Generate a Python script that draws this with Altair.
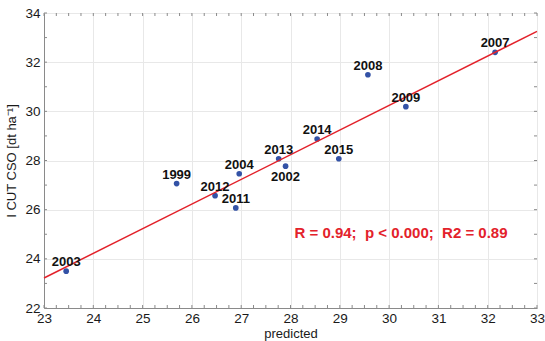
import altair as alt
import pandas as pd
import numpy as np

# ---- data ----
years = ["2003", "1999", "2012", "2011", "2004", "2013", "2002", "2014", "2015", "2008", "2009", "2007"]
predicted = [23.45, 25.69, 26.47, 26.89, 26.96, 27.76, 27.90, 28.54, 28.98, 29.57, 30.34, 32.15]
observed = [23.50, 27.06, 26.57, 26.07, 27.46, 28.07, 27.77, 28.87, 28.07, 31.49, 30.19, 32.40]
label_side = ["above", "above", "above", "above", "above", "above", "below",
              "above", "above", "above", "above", "above"]

fit_x = [23, 33]
fit_y = [23.22, 33.25]

x_major = [23, 24, 25, 26, 27, 28, 29, 30, 31, 32, 33]
y_major = [22, 24, 26, 28, 30, 32, 34]
x_minor = list(np.arange(23, 33.001, 0.25))
y_minor = list(range(22, 35))

stats_text = "R = 0.94;\u00a0\u00a0p < 0.000;\u00a0\u00a0R2 = 0.89"

W, H = 493, 295
FONT = "Liberation Sans"
GRAY = "#8a8a8a"
TXT = "#1a1a1a"

pts = pd.DataFrame({"year": years, "pred": predicted, "obs": observed, "side": label_side})
fit = pd.DataFrame({"pred": fit_x, "obs": fit_y})
xt = pd.DataFrame({"pred": x_minor})
yt = pd.DataFrame({"obs": y_minor})

xs = alt.Scale(domain=[23, 33], nice=False, zero=False)
ys = alt.Scale(domain=[22, 34], nice=False, zero=False)
common = dict(ticks=False, grid=True, format="d", domainColor=GRAY, gridColor="#e8e8e8",
              labelFont=FONT, labelFontSize=13.5, labelColor=TXT, labelFontWeight="normal",
              titleFont=FONT, titleFontSize=13, titleFontWeight="normal", titleColor=TXT)
xax = alt.Axis(values=x_major, labelPadding=3, titlePadding=3, labelFlush=False, **common)
yax = alt.Axis(values=y_major, labelPadding=4, titlePadding=6, labelFlush=False, **common)
XT = "predicted"
YT = "I CUT CSO [dt ha\u207b\u00b9]"


def X():
    return alt.X("pred:Q", scale=xs, axis=xax, title=XT)


def Y():
    return alt.Y("obs:Q", scale=ys, axis=yax, title=YT)


base = alt.Chart(pts)

points = base.mark_circle(size=32, color="#3352a6", opacity=1).encode(x=X(), y=Y())

line = alt.Chart(fit).mark_line(color="#e3222b", strokeWidth=1.5).encode(x=X(), y=Y())

lab_above = base.transform_filter(alt.datum.side == "above").mark_text(
    font=FONT, fontSize=13, fontWeight="bold", color="#111111", dy=-5, baseline="alphabetic"
).encode(x=X(), y=Y(), text="year:N")

lab_below = base.transform_filter(alt.datum.side == "below").mark_text(
    font=FONT, fontSize=13, fontWeight="bold", color="#111111", dy=15, baseline="alphabetic"
).encode(x=X(), y=Y(), text="year:N")

tick_b = alt.Chart(xt).mark_rule(color=GRAY, strokeWidth=1).encode(
    x=X(), y=alt.value(H), y2=alt.value(H - 3))
tick_t = alt.Chart(xt).mark_rule(color=GRAY, strokeWidth=1).encode(
    x=X(), y=alt.value(0), y2=alt.value(3))
tick_l = alt.Chart(yt).mark_rule(color=GRAY, strokeWidth=1).encode(
    y=Y(), x=alt.value(0), x2=alt.value(3))
tick_r = alt.Chart(yt).mark_rule(color=GRAY, strokeWidth=1).encode(
    y=Y(), x=alt.value(W), x2=alt.value(W - 3))

stats = alt.Chart(pd.DataFrame({"s": [stats_text]})).mark_text(
    font=FONT, fontSize=15, fontWeight="bold", color="#e3222b", align="center", baseline="middle"
).encode(x=alt.value(357), y=alt.value(220), text="s:N")

chart = alt.layer(points, line, tick_b, tick_t, tick_l, tick_r, lab_above, lab_below, stats).properties(
    width=W, height=H,
    autosize=alt.AutoSizeParams(type="none"),
    padding={"left": 44, "top": 13, "right": 8, "bottom": 33},
).configure_view(
    stroke=GRAY, strokeWidth=1
).configure(background="white")

chart.save("out.html", embed_options={"renderer": "svg", "actions": False})
